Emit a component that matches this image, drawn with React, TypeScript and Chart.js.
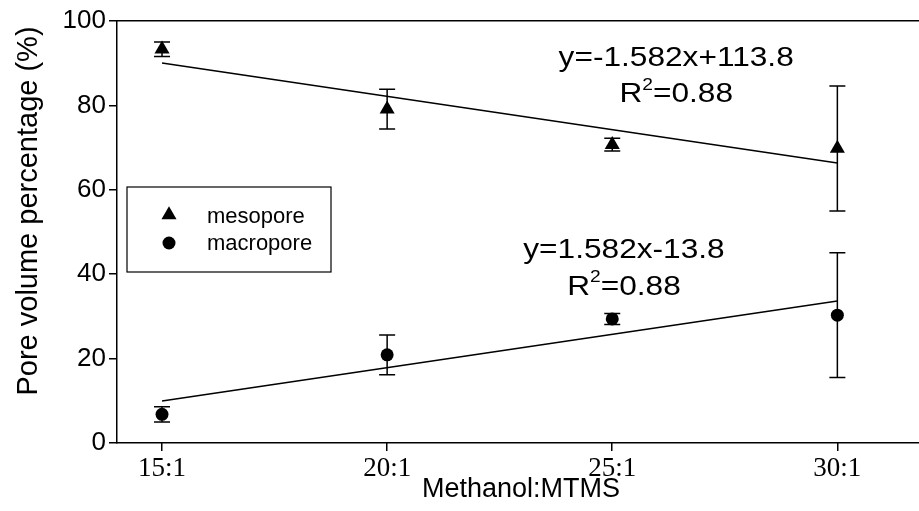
import React, { useEffect, useRef } from "react";
import { Chart, registerables } from "chart.js";

Chart.register(...registerables);

// ---- data ----
const ratios = [15, 20, 25, 30];
const tickLabels = ["15:1", "20:1", "25:1", "30:1"];
const mesopore = [93.3, 79.1, 70.7, 69.8];
const mesoporeErr = [1.7, 4.7, 1.5, 14.8];
const macropore = [6.8, 20.9, 29.4, 30.3];
const macroporeErr = [1.8, 4.7, 1.3, 14.8];
const fitX = [15, 30];
const mesoFit = [90.07, 66.34];
const macroFit = [9.93, 33.66];
const seriesNames = ["mesopore", "macropore"];
const mesoEquation = "y=-1.582x+113.8";
const macroEquation = "y=1.582x-13.8";
const mesoR2 = "0.88";
const macroR2 = "0.88";
const xTitle = "Methanol:MTMS";
const yTitle = "Pore volume percentage (%)";

const SANS = "'Liberation Sans', Arial, sans-serif";
const SERIF = "'Liberation Serif', 'Times New Roman', serif";
const EQ_STRETCH = 1.13;

function drawR2(ctx: CanvasRenderingContext2D, cx: number, cy: number, value: string, size: number) {
  ctx.save();
  ctx.translate(cx, cy);
  ctx.scale(EQ_STRETCH, 1);
  ctx.fillStyle = "#000";
  ctx.textBaseline = "middle";
  ctx.textAlign = "left";
  const big = `${size}px ${SANS}`;
  const small = `${Math.round(size * 0.62)}px ${SANS}`;
  ctx.font = big;
  const wR = ctx.measureText("R").width;
  const wRest = ctx.measureText("=" + value).width;
  ctx.font = small;
  const w2 = ctx.measureText("2").width;
  const total = wR + w2 + wRest;
  let x = -total / 2;
  ctx.font = big;
  ctx.fillText("R", x, 0);
  x += wR;
  ctx.font = small;
  ctx.fillText("2", x, -size * 0.33);
  x += w2;
  ctx.font = big;
  ctx.fillText("=" + value, x, 0);
  ctx.restore();
}

function drawStretched(ctx: CanvasRenderingContext2D, text: string, cx: number, cy: number, size: number) {
  ctx.save();
  ctx.translate(cx, cy);
  ctx.scale(EQ_STRETCH, 1);
  ctx.font = `${size}px ${SANS}`;
  ctx.fillStyle = "#000";
  ctx.textAlign = "center";
  ctx.textBaseline = "middle";
  ctx.fillText(text, 0, 0);
  ctx.restore();
}

const align = (p: number, w: number) => Math.round(p - w / 2) + w / 2;

const extrasPlugin = {
  id: "extras",
  beforeDatasetsDraw(chart: any) {
    const { ctx } = chart;
    const xs = chart.scales.x;
    const ys = chart.scales.y;
    ctx.save();
    ctx.strokeStyle = "#000";
    ctx.lineWidth = 1.5;
    const draw = (vals: number[], errs: number[]) => {
      vals.forEach((v, i) => {
        const px = xs.getPixelForValue(ratios[i]);
        const top = ys.getPixelForValue(v + errs[i]);
        const bot = ys.getPixelForValue(v - errs[i]);
        ctx.beginPath();
        ctx.moveTo(px, top);
        ctx.lineTo(px, bot);
        ctx.moveTo(px - 8, top);
        ctx.lineTo(px + 8, top);
        ctx.moveTo(px - 8, bot);
        ctx.lineTo(px + 8, bot);
        ctx.stroke();
      });
    };
    draw(mesopore, mesoporeErr);
    draw(macropore, macroporeErr);
    ctx.restore();
  },
  afterDraw(chart: any) {
    const { ctx, chartArea } = chart;
    const xs = chart.scales.x;
    const ys = chart.scales.y;
    ctx.save();
    // top frame line and bottom axis line, both running to the right edge
    ctx.strokeStyle = "#000";
    ctx.lineWidth = 1.5;
    const leftX = align(chartArea.left, 1.5) - 0.75;
    ctx.beginPath();
    ctx.moveTo(leftX, align(chartArea.top, 1.5));
    ctx.lineTo(chart.width, align(chartArea.top, 1.5));
    ctx.moveTo(leftX, align(chartArea.bottom, 1.5));
    ctx.lineTo(chart.width, align(chartArea.bottom, 1.5));
    ctx.stroke();

    // legend box
    const lx = chartArea.left + 10;
    const ly = chartArea.top + 166;
    ctx.lineWidth = 1.2;
    ctx.strokeRect(lx, ly, 204, 85);
    ctx.fillStyle = "#000";
    const mx = lx + 42;
    const rT = 8.7;
    const tY = ly + 28;
    ctx.beginPath();
    ctx.moveTo(mx, tY - rT);
    ctx.lineTo(mx + rT * Math.sin((2 * Math.PI) / 3), tY + rT / 2);
    ctx.lineTo(mx - rT * Math.sin((2 * Math.PI) / 3), tY + rT / 2);
    ctx.closePath();
    ctx.fill();
    ctx.beginPath();
    ctx.arc(mx, ly + 56, 6.5, 0, Math.PI * 2);
    ctx.fill();
    ctx.font = `22px ${SANS}`;
    ctx.textAlign = "left";
    ctx.textBaseline = "middle";
    ctx.fillText(seriesNames[0], lx + 80, ly + 30);
    ctx.fillText(seriesNames[1], lx + 80, ly + 57);

    // equations
    const eqSize = 28;
    drawStretched(ctx, mesoEquation, xs.getPixelForValue(26.42), ys.getPixelForValue(91.2), eqSize);
    drawR2(ctx, xs.getPixelForValue(26.42), ys.getPixelForValue(82.6), mesoR2, eqSize);
    drawStretched(ctx, macroEquation, xs.getPixelForValue(25.26), ys.getPixelForValue(45.7), eqSize);
    drawR2(ctx, xs.getPixelForValue(25.26), ys.getPixelForValue(37.0), macroR2, eqSize);

    // axis titles
    ctx.fillStyle = "#000";
    ctx.font = `27px ${SANS}`;
    ctx.textAlign = "center";
    ctx.textBaseline = "middle";
    ctx.fillText(xTitle, 521, 490);
    ctx.save();
    ctx.translate(29, 211);
    ctx.rotate(-Math.PI / 2);
    ctx.font = `29px ${SANS}`;
    ctx.fillText(yTitle, 0, 0);
    ctx.restore();
    ctx.restore();
  },
};

export default function App() {
  const ref = useRef<HTMLCanvasElement | null>(null);
  useEffect(() => {
    if (!ref.current) return;
    const chart = new Chart(ref.current, {
      type: "scatter",
      data: {
        datasets: [
          {
            label: seriesNames[0],
            data: ratios.map((x, i) => ({ x, y: mesopore[i] })),
            pointStyle: "triangle",
            pointRadius: 8.7,
            backgroundColor: "#000",
            borderColor: "#000",
            borderWidth: 0,
            showLine: false,
          },
          {
            label: seriesNames[1],
            data: ratios.map((x, i) => ({ x, y: macropore[i] })),
            pointStyle: "circle",
            pointRadius: 6.5,
            backgroundColor: "#000",
            borderColor: "#000",
            borderWidth: 0,
            showLine: false,
          },
          {
            label: "mesoFit",
            type: "line",
            data: fitX.map((x, i) => ({ x, y: mesoFit[i] })),
            borderColor: "#000",
            borderWidth: 1.5,
            pointRadius: 0,
            fill: false,
          } as any,
          {
            label: "macroFit",
            type: "line",
            data: fitX.map((x, i) => ({ x, y: macroFit[i] })),
            borderColor: "#000",
            borderWidth: 1.5,
            pointRadius: 0,
            fill: false,
          } as any,
        ],
      },
      options: {
        responsive: false,
        animation: false,
        devicePixelRatio: 1,
        layout: { padding: { top: 21, left: 0, right: 0, bottom: 0 } },
        plugins: { legend: { display: false }, tooltip: { enabled: false } },
        scales: {
          x: {
            type: "linear",
            min: 14,
            max: 31.62,
            afterBuildTicks: (s: any) => {
              s.ticks = ratios.map((v) => ({ value: v }));
            },
            afterFit: (s: any) => {
              s.height = 68;
            },
            ticks: {
              color: "#000",
              font: { family: SERIF, size: 27 },
              padding: 2,
              callback: (v: any) => {
                const i = ratios.indexOf(Number(v));
                return i >= 0 ? tickLabels[i] : "";
              },
            },
            grid: { drawOnChartArea: false, drawTicks: true, tickLength: 8, color: "#000", lineWidth: 1.5 },
            border: { display: false },
          },
          y: {
            min: 0,
            max: 100,
            afterFit: (s: any) => {
              s.width = 117;
            },
            ticks: {
              stepSize: 20,
              color: "#000",
              font: { family: SANS, size: 26 },
              padding: 3,
            },
            grid: { drawOnChartArea: false, drawTicks: true, tickLength: 8, color: "#000", lineWidth: 1.5 },
            border: { color: "#000", width: 1.5 },
          },
        },
      },
      plugins: [extrasPlugin],
    });
    return () => chart.destroy();
  }, []);
  return (
    <div style={{ position: "absolute", left: 0, top: 0, width: 919, height: 511, background: "#fff" }}>
      <canvas ref={ref} width={919} height={511} />
    </div>
  );
}
